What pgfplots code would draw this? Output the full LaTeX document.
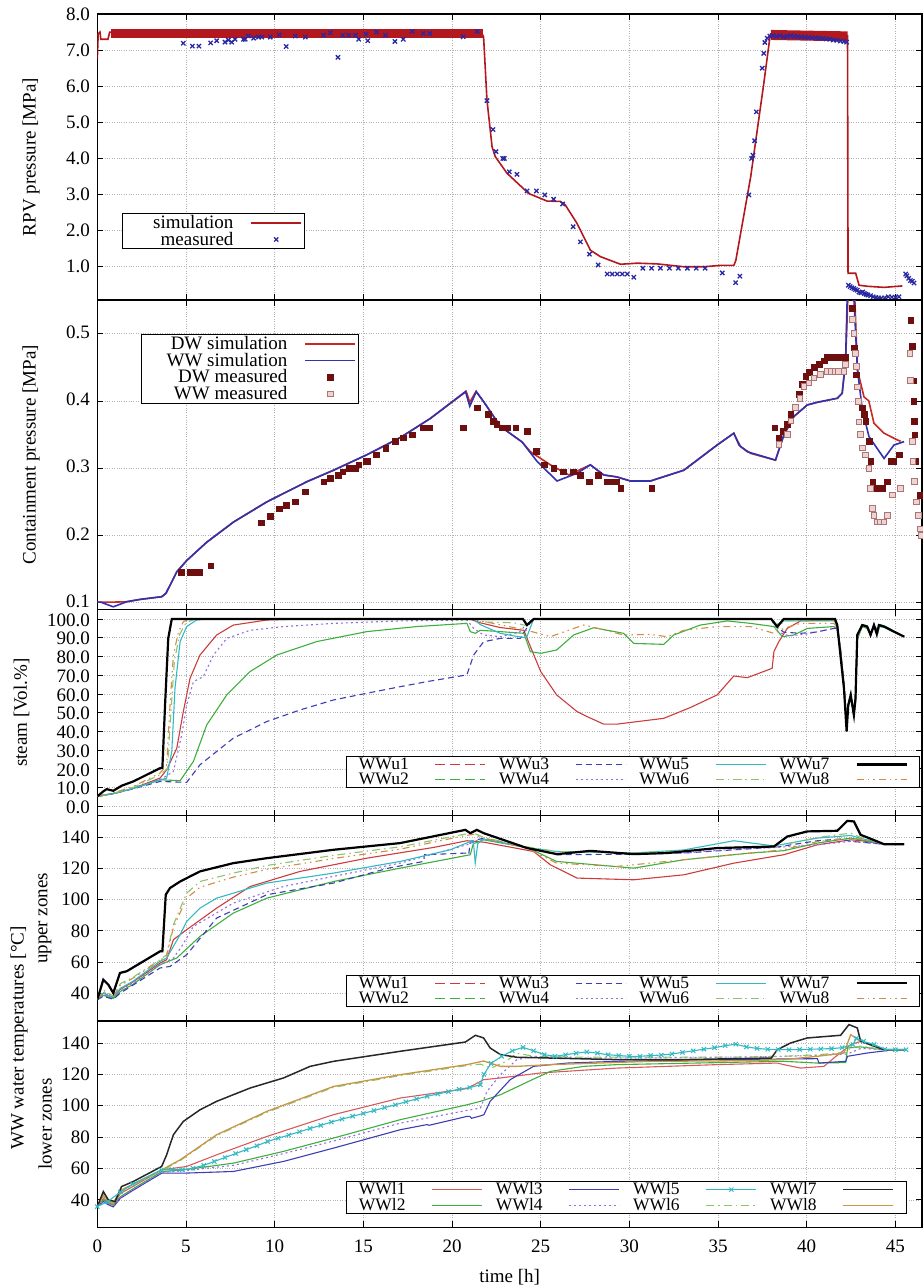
\documentclass[border=0pt]{standalone}
\usepackage{fontspec}
\setmainfont{Liberation Serif}
\usepackage{pgfplots}
\pgfplotsset{compat=1.18}
\definecolor{simred}{RGB}{178,24,30}
\definecolor{measblue}{RGB}{40,40,165}
\definecolor{dwsim}{RGB}{200,40,40}
\definecolor{wwsim}{RGB}{50,50,175}
\definecolor{dwmeas}{RGB}{110,15,15}
\definecolor{wwmeas}{RGB}{175,115,115}
\definecolor{wwfill}{RGB}{235,212,212}
\definecolor{cu1}{RGB}{205,60,60}
\definecolor{cu2}{RGB}{60,175,60}
\definecolor{cu3}{RGB}{60,60,180}
\definecolor{cu4}{RGB}{150,110,220}
\definecolor{cu5}{RGB}{50,185,195}
\definecolor{cu6}{RGB}{140,195,110}
\definecolor{cu8}{RGB}{210,140,70}
\definecolor{cl1}{RGB}{215,90,90}
\definecolor{cl7}{RGB}{40,40,40}
\definecolor{cl8}{RGB}{200,150,70}
\newcommand{\fs}{\fontsize{19}{21}\selectfont}
\newcommand{\fl}{\fontsize{17.5}{20}\selectfont}
\newcommand{\legtxt}[2]{\makebox[#1][r]{\vphantom{Wg}#2}}
\newcommand{\legn}[1]{\rule[-5pt]{0pt}{14.5pt}#1}
\pgfplotsset{
  longlegend/.style={legend image code/.code={\draw[mark repeat=2,mark phase=2,##1] plot coordinates {(0pt,0pt) (25pt,0pt) (50pt,0pt)};}},
  panel/.style={
    scale only axis, width=824.7pt, anchor=north west,
    xmin=0, xmax=46.5, xtick={0,5,...,45},
    grid=major, major grid style={dotted, line width=0.7pt, gray!60},
    axis line style={line width=1.4pt},
    major tick style={black, line width=0.8pt}, major tick length=6pt,
    tick align=inside,
    tick label style={font=\fs},
    label style={font=\fs},
    /pgf/number format/assume math mode=true,
    yticklabel style={xshift=-4pt},
    legend plot pos=right, legend cell align=right, longlegend,
    legend style={font=\fs, draw=black, line width=0.8pt, fill=white,
      inner xsep=2pt, inner ysep=1pt, row sep=0pt, nodes={inner sep=1pt},
      /tikz/every even column/.append style={column sep=11pt},
      /tikz/every odd column/.append style={column sep=16pt}},
  },
  wlegend/.style={legend columns=4,
    legend style={font=\fl, inner xsep=12pt, inner ysep=0.5pt,
      /tikz/every even column/.append style={column sep=12pt},
      /tikz/every odd column/.append style={column sep=25pt}}},
  su1/.style={color=cu1, line width=1.1pt, solid},
  su2/.style={color=cu2, line width=1.1pt, solid},
  su3/.style={color=cu3, line width=1.1pt, dash pattern=on 6pt off 4pt},
  su4/.style={color=cu4, line width=1.1pt, dash pattern=on 2pt off 3pt},
  su5/.style={color=cu5, line width=1.1pt, solid},
  su6/.style={color=cu6, line width=1.1pt, dash pattern=on 8pt off 4pt on 1.5pt off 4pt},
  su7/.style={color=black, line width=2.2pt, solid},
  su8/.style={color=cu8, line width=1.1pt, dash pattern=on 7pt off 4pt on 1.5pt off 4pt on 1.5pt off 4pt},
  sl1/.style={color=cl1, line width=1.1pt, solid},
  sl2/.style={color=cu2, line width=1.1pt, solid},
  sl3/.style={color=cu3, line width=1.1pt, solid},
  sl4/.style={color=cu4, line width=1.1pt, dash pattern=on 2pt off 3pt},
  sl5/.style={color=cu5, line width=1.1pt, solid, mark=x, mark size=3pt, mark options={solid, line width=1pt}},
  sl6/.style={color=cu6, line width=1.1pt, dash pattern=on 8pt off 4pt on 1.5pt off 4pt},
  sl7/.style={color=cl7, line width=1.5pt, solid},
  sl8/.style={color=cl8, line width=1.3pt, solid},
}
\begin{document}
\begin{tikzpicture}
\path[use as bounding box] (0pt,0pt) rectangle (923pt,-1287pt);

% ---------------- Panel 1: RPV pressure
\begin{axis}[panel, at={(97.3pt,-14pt)}, height=286pt,
  ymin=0.08, ymax=8, ytick={1,2,3,4,5,6,7,8},
  yticklabel style={/pgf/number format/.cd, fixed, fixed zerofill, precision=1},
  xticklabels={},
  ylabel={RPV pressure [MPa]},
  ylabel style={at={(axis description cs:-0.0804,0.5)}, anchor=center},
  legend style={at={(0.03,0.304)}, anchor=north west}]
\addplot[simred, line width=1.6pt, forget plot] coordinates {
(0,6.75) (0.05,7.45) (0.15,7.5) (0.2,7.3) (0.6,7.3) (0.7,7.5) (21.7,7.45) (21.78,7.37)
(21.97,5.62) (22.26,4.32) (22.44,4.05) (23.1,3.59) (24.32,3.03) (25.36,2.82) (26.11,2.81)
(26.39,2.71) (27.05,2.2) (27.8,1.46) (28.37,1.28) (29.5,1.07) (30.44,1.10) (31.57,1.08)
(33.07,1.0) (34.2,1.0) (35.14,1.04) (35.89,1.04) (36.0,1.17) (36.84,3.49) (37.58,6.08)
(37.92,7.34) (37.96,7.45) (42.3,7.4) (42.33,0.82) (42.76,0.82) (42.95,0.49) (43.42,0.46)
(44.36,0.43) (45.39,0.47)};
\addplot[simred, line width=8.5pt, forget plot] coordinates {(0.75,7.46) (21.72,7.46)};
\addplot[simred, line width=10pt, forget plot] coordinates {(37.98,7.42) (42.3,7.38)};
\addplot[measblue, only marks, mark=x, mark size=3pt, line width=1.3pt, forget plot] coordinates {
(4.85,7.19) (5.36,7.11) (5.73,7.11) (6.39,7.2) (6.73,7.26) (7.2,7.22) (7.39,7.28) (7.58,7.22)
(7.77,7.3) (8.24,7.3) (8.34,7.3) (8.52,7.39) (8.81,7.33) (9.09,7.36) (9.28,7.36) (9.75,7.36)
(10.26,7.42) (10.65,7.1) (11.16,7.39) (11.73,7.36) (12.76,7.41) (13.14,7.48) (13.57,6.8)
(13.84,7.41) (14.17,7.41) (14.55,7.41) (14.74,7.3) (15.15,7.44) (15.25,7.26) (15.74,7.5)
(16.25,7.41) (16.78,7.24) (17.25,7.3) (17.76,7.52) (18.38,7.46) (18.75,7.46) (20.63,7.37)
(21.42,7.52) (21.97,5.6) (22.31,4.8) (22.48,4.19) (22.86,4.0) (22.95,4.0) (23.23,3.63)
(23.66,3.56) (24.23,3.1) (24.76,3.1) (25.23,2.99) (25.73,2.87) (26.24,2.74) (26.83,2.11)
(27.24,1.69) (27.75,1.35) (28.24,1.05) (28.75,0.8) (29.03,0.8) (29.32,0.8) (29.6,0.8)
(29.88,0.8) (30.25,0.71) (30.76,0.96) (31.25,0.96) (31.75,0.96) (32.26,0.96) (32.76,0.96)
(33.27,0.96) (33.77,0.96) (34.27,0.96) (35.24,0.83) (35.99,0.56) (36.23,0.74) (36.74,2.99)
(36.89,4.0) (36.97,4.09) (37.06,4.49) (37.16,5.29) (37.49,6.5) (37.58,6.91) (37.64,7.21)
(37.77,7.33) (37.92,7.39) (38.1,7.4) (38.3,7.38) (38.5,7.4) (38.7,7.36) (38.9,7.38)
(39.1,7.4) (39.3,7.38) (39.5,7.37) (39.7,7.36) (39.9,7.36) (40.1,7.35) (40.3,7.34)
(40.5,7.34) (40.7,7.33) (40.9,7.32) (41.1,7.31) (41.3,7.3) (41.5,7.28) (41.7,7.27)
(41.9,7.25) (42.1,7.24) (42.25,7.22)
(42.35,0.49) (42.45,0.45) (42.55,0.42) (42.65,0.4) (42.75,0.37) (42.85,0.35) (42.95,0.3)
(43.05,0.28) (43.15,0.3) (43.25,0.26) (43.35,0.24) (43.45,0.22) (43.6,0.2) (43.75,0.17)
(43.9,0.15) (44.05,0.14) (44.2,0.13) (44.4,0.14) (44.6,0.17) (44.8,0.16) (45.0,0.15)
(45.2,0.17) (45.58,0.8) (45.65,0.75) (45.75,0.68) (45.85,0.62) (45.95,0.6) (46.05,0.55)};
\addlegendimage{simred, line width=1.6pt}
\addlegendentry{\legtxt{108pt}{simulation}}
\addlegendimage{measblue, only marks, mark=x, mark size=3pt, line width=1.3pt, longlegend}
\addlegendentry{\legtxt{108pt}{measured}}
\end{axis}

% ---------------- Panel 2: containment pressure
\begin{axis}[panel, at={(97.3pt,-300pt)}, height=309.5pt,
  ymin=0.09, ymax=0.55, ytick={0.1,0.2,0.3,0.4,0.5},
  yticklabel style={yshift=1.5pt, /pgf/number format/.cd, fixed, fixed zerofill, precision=1},
  xticklabels={},
  ylabel={Containment pressure [MPa]},
  ylabel style={at={(axis description cs:-0.0804,0.5)}, anchor=center},
  legend style={at={(0.053,0.89)}, anchor=north west}]
\addplot[dwsim, line width=1.6pt, forget plot] coordinates {
(0,0.101) (0.19,0.101) (0.9,0.101) (1.65,0.1015) (2.41,0.105) (3.63,0.109) (3.87,0.114)
(4.1,0.126) (4.48,0.146) (5.05,0.163) (6.17,0.19) (7.68,0.22) (9.56,0.25) (10.69,0.265)
(11.82,0.28) (13.32,0.297) (15.2,0.32) (17.08,0.3455) (18.78,0.374) (20.8,0.414) (21.0,0.398)
(21.35,0.414) (21.78,0.399) (22.73,0.362) (23.95,0.339) (24.42,0.3245) (25.55,0.305)
(26.58,0.29) (27.8,0.305) (28.55,0.29) (29.3,0.287) (30.06,0.281) (31.19,0.281) (33.07,0.297)
(34.95,0.3345) (35.89,0.352) (36.27,0.332) (36.84,0.322) (38.24,0.312) (38.71,0.3495)
(39.28,0.377) (40.03,0.394) (40.6,0.398) (41.73,0.404) (42.0,0.4115) (42.19,0.459)
(42.33,0.56) (42.7,0.56) (42.86,0.446) (43.23,0.406) (43.5,0.4) (43.79,0.367) (44.36,0.352)
(45.11,0.342) (45.3,0.34)};
\addplot[wwsim, line width=1.6pt, forget plot] coordinates {
(0,0.101) (0.19,0.101) (0.9,0.094) (1.65,0.1015) (2.41,0.105) (3.63,0.109) (3.87,0.114)
(4.1,0.126) (4.48,0.146) (5.05,0.163) (6.17,0.19) (7.68,0.22) (9.56,0.25) (10.69,0.265)
(11.82,0.28) (13.32,0.297) (15.2,0.32) (17.08,0.3455) (18.78,0.374) (20.76,0.414) (21.0,0.392)
(21.37,0.414) (21.78,0.399) (22.73,0.362) (23.95,0.339) (24.8,0.31) (25.92,0.281)
(27.05,0.2925) (27.8,0.305) (28.55,0.29) (29.3,0.287) (30.06,0.281) (31.19,0.281)
(33.07,0.297) (34.95,0.3345) (35.89,0.352) (36.18,0.3345) (36.65,0.3245) (38.24,0.312)
(38.71,0.3495) (39.28,0.377) (40.03,0.394) (40.6,0.398) (41.73,0.404) (42.0,0.4115)
(42.19,0.459) (42.29,0.56) (42.67,0.548) (42.86,0.446) (43.14,0.386) (43.51,0.347)
(44.36,0.3145) (44.92,0.3345) (45.49,0.3395)};
\addplot[dwmeas, only marks, mark=square*, mark size=2.8pt, forget plot] coordinates {
(4.72,0.145) (5.23,0.145) (5.5,0.145) (5.76,0.145) (6.4,0.155) (9.24,0.219) (9.74,0.229)
(10.25,0.24) (10.65,0.245) (11.16,0.25) (11.72,0.265) (12.76,0.28) (13.14,0.285) (13.57,0.29)
(13.84,0.295) (14.17,0.3) (14.55,0.3) (14.74,0.305) (15.15,0.31) (15.25,0.31) (15.74,0.32)
(16.25,0.33) (16.78,0.3405) (17.25,0.3455) (17.76,0.35) (18.38,0.36) (18.75,0.36) (20.63,0.36)
(21.42,0.39) (22.03,0.38) (22.33,0.37) (22.52,0.365) (22.84,0.36) (23.12,0.36) (23.59,0.36)
(24.23,0.355) (24.74,0.3255) (25.21,0.305) (25.73,0.3) (26.26,0.295) (26.83,0.295)
(27.24,0.29) (27.75,0.28) (28.24,0.29) (28.75,0.28) (29.03,0.28) (29.26,0.28) (29.5,0.27)
(31.25,0.27) (38.19,0.36) (38.43,0.3455) (38.66,0.355) (38.9,0.365) (39.09,0.38) (39.37,0.39)
(39.56,0.41) (39.75,0.425) (39.94,0.4365) (40.13,0.443) (40.41,0.45) (40.69,0.455)
(40.98,0.46) (41.17,0.465) (41.4,0.465) (41.6,0.465) (41.8,0.465) (42.0,0.465) (42.2,0.465)
(42.57,0.538) (42.66,0.479) (42.8,0.439) (42.94,0.399) (43.13,0.39) (43.23,0.38) (43.32,0.37)
(43.51,0.34) (43.6,0.31) (43.73,0.28) (43.98,0.27) (44.1,0.27) (44.26,0.27) (44.54,0.28)
(44.73,0.31) (44.9,0.31) (45.2,0.32) (45.86,0.52) (45.96,0.481) (46.02,0.43) (46.04,0.4)
(46.06,0.37) (46.08,0.35) (46.12,0.31) (46.4,0.26)};
\addplot[wwmeas, only marks, mark=square*, mark size=2.8pt, mark options={fill=wwfill, line width=0.9pt}, forget plot] coordinates {
(38.43,0.335) (38.9,0.35) (39.1,0.37) (39.37,0.39) (39.62,0.404) (39.84,0.4215) (40.13,0.4265)
(40.41,0.434) (40.79,0.439) (41.17,0.444) (41.4,0.444) (41.6,0.444) (41.8,0.444) (42.1,0.444)
(42.2,0.454) (42.57,0.521) (42.66,0.5) (42.76,0.471) (42.8,0.451) (42.85,0.421) (42.9,0.399)
(42.95,0.369) (43.04,0.35) (43.13,0.33) (43.32,0.32) (43.51,0.3) (43.6,0.27) (43.7,0.24)
(43.79,0.23) (43.98,0.22) (44.17,0.22) (44.36,0.22) (44.55,0.23) (44.83,0.26) (45.3,0.27)
(45.82,0.471) (45.86,0.43) (45.95,0.34) (46.0,0.31) (46.06,0.28) (46.2,0.25) (46.3,0.23)
(46.4,0.21) (46.45,0.2)};
\addlegendimage{dwsim, line width=1.6pt}
\addlegendentry{\legtxt{143pt}{DW simulation}}
\addlegendimage{wwsim, line width=1.6pt}
\addlegendentry{\legtxt{143pt}{WW simulation}}
\addlegendimage{dwmeas, only marks, mark=square*, mark size=2.8pt, longlegend}
\addlegendentry{\legtxt{143pt}{DW measured}}
\addlegendimage{wwmeas, only marks, mark=square*, mark size=2.8pt, mark options={fill=wwfill, line width=0.9pt}, longlegend}
\addlegendentry{\legtxt{143pt}{WW measured}}
\end{axis}

% ---------------- Panel 3: steam
\begin{axis}[panel, wlegend, at={(97.3pt,-609.7pt)}, height=206pt,
  ymin=-5, ymax=105, ytick={0,10,...,100},
  yticklabel style={yshift=-1pt, /pgf/number format/.cd, fixed, fixed zerofill, precision=1},
  xticklabels={},
  ylabel={steam [Vol.\%]},
  ylabel style={at={(axis description cs:-0.0919,0.5)}, anchor=center},
  legend style={at={(0.301,0.29)}, anchor=north west}]
\addplot[su1, forget plot] coordinates {
(0,5.3) (1,7) (2,9.5) (3.54,15.1) (3.91,19.5) (4.48,31) (4.85,50.6) (5.23,68.4) (5.79,80.8)
(6.73,91.5) (7.67,96.8) (9.56,99.5) (11.44,100) (21.0,100) (21.6,98) (22.7,95.5) (24.05,94)
(24.42,85.3) (25.0,72) (25.9,59.5) (27.05,50.6) (27.6,48) (28.55,43.9) (29.3,43.9) (31.94,47)
(33.45,52.8) (34.95,59.5) (35.89,69.6) (36.65,68.7) (38.05,73.7) (38.15,82.6) (38.43,88)
(38.9,95) (39.65,99) (41.53,99.5) (41.7,97) (41.9,85) (42.1,65) (42.25,45) (42.35,55)
(42.5,58) (42.65,50) (42.75,56) (42.85,90) (43.13,96.5) (43.4,95.5) (43.6,92) (43.8,96.5)
(44.0,93) (44.1,96.5) (44.4,96) (44.9,93.3) (45.5,90.6)};
\addplot[su2, forget plot] coordinates {
(0,5.3) (1,7) (2,9.5) (3.54,14.2) (4.67,13.7) (5.42,24) (6.17,43.5) (7.3,59.5) (8.62,72)
(10.12,80.8) (12.38,88) (15.2,93.3) (18.02,96) (20.84,97.7) (21.03,93.3) (21.31,92.4)
(21.6,94) (22.73,93.3) (24.05,92.4) (24.42,82.6) (25.0,81.7) (25.9,83.5) (26.86,91.5)
(27.99,95.4) (29.67,92.4) (30.25,87) (31.94,86.5) (32.5,91.5) (34.0,96.8) (35.52,99)
(36.83,97.7) (38.15,96) (38.62,90.6) (39.28,91.5) (40.03,95) (41.53,96) (41.7,95)
(41.9,84) (42.1,64) (42.25,44) (42.35,54) (42.5,57) (42.65,49) (42.75,55) (42.85,89)
(43.13,96) (43.4,95) (43.6,91.5) (43.8,96) (44.0,92.5) (44.1,96) (44.4,95.5) (44.9,93)
(45.5,90.6)};
\addplot[su3, forget plot] coordinates {
(0,5.3) (1,7) (2,9.3) (3.54,13.3) (5.04,12.8) (5.79,22.2) (7.67,36.4) (9.56,45.3)
(11.44,51.5) (13.32,56.8) (15.2,60.4) (17.08,63.9) (18.59,66.6) (20.84,70.2) (21.22,80.8)
(21.78,87.9) (22.73,89.7) (23.85,89.7) (24.4,98) (24.6,100) (38.0,100) (38.3,96) (38.7,93)
(39.65,92.4) (40.5,93) (41.53,95) (41.7,95) (41.9,84) (42.1,66) (42.25,46) (42.35,56)
(42.5,59) (42.65,51) (42.75,57) (42.85,91) (43.13,97) (43.4,96) (43.6,92.5) (43.8,97)
(44.0,93.5) (44.1,97) (44.4,96.3) (44.9,93.5) (45.5,90.8)};
\addplot[su4, forget plot] coordinates {
(0,5.3) (1,7) (2,9.5) (3.54,14.2) (4.29,18.6) (4.76,38.2) (5.04,54) (5.42,66.6) (5.98,69.3)
(6.55,80.8) (7.3,89.7) (8.62,94) (10.5,96) (13.32,97.7) (17.08,99) (20.84,99.5) (21.22,95)
(21.78,91.5) (22.73,90.6) (23.8,93) (24.23,97.7) (24.6,100) (38.0,100) (38.4,93) (39,91)
(40,92) (41.5,95) (41.7,96) (41.9,85) (42.1,65) (42.25,45) (42.35,55) (42.5,58) (42.65,50)
(42.75,56) (42.85,90) (43.13,96.5) (43.4,95.5) (43.6,92) (43.8,96.5) (44.0,93) (44.1,96.5)
(44.4,96) (44.9,93.3) (45.5,90.6)};
\addplot[su5, forget plot] coordinates {
(0,5.3) (1,7) (2,9.5) (3.54,14) (3.91,15.1) (4.2,29.3) (4.38,63) (4.67,88) (5.04,96)
(5.6,99.5) (6.17,100) (21.2,100) (21.6,97) (22.72,92.4) (23.5,91) (24.2,90) (24.6,100)
(38.0,100) (38.3,97) (38.7,99) (41.6,99) (41.75,96) (41.9,83) (42.1,62) (42.25,42)
(42.35,53) (42.5,60) (42.65,47) (42.75,58) (42.85,92) (43.13,97) (43.4,96.5) (43.6,91)
(43.8,97) (44.0,92.5) (44.1,97) (44.4,96.3) (44.9,93.6) (45.5,90.8)};
\addplot[su6, forget plot] coordinates {
(0,5.3) (1,7.3) (2,10) (3.54,16.9) (3.95,20) (4.15,50) (4.35,78) (4.65,92) (5.0,98)
(5.5,100) (21.2,100) (21.6,98.5) (23.5,98) (24.2,96.5) (24.6,100) (38.0,100) (38.3,94)
(38.7,99) (41.6,99) (41.75,96) (41.9,82) (42.1,64) (42.25,44) (42.35,54) (42.5,59)
(42.65,48) (42.75,57) (42.85,91) (43.13,96.8) (43.4,96) (43.6,91.5) (43.8,96.8) (44.0,92)
(44.1,96.8) (44.4,96) (44.9,93.3) (45.5,90.6)};
\addplot[su8, forget plot] coordinates {
(0,5.3) (1,7.5) (2,10.5) (3.54,17.8) (3.91,22) (4.1,54) (4.29,80.8) (4.57,93) (4.85,98.6)
(5.23,100) (21.0,100) (21.6,99) (22.7,97) (24.23,94) (25.55,90.6) (26.86,95) (27.43,96.8)
(28.37,94.7) (29.67,91.5) (31.19,91.8) (32.13,90.6) (33.07,94) (34.95,96) (36.83,96)
(38.15,92.4) (38.7,95) (39.65,97.7) (41.53,97.7) (41.7,96) (41.9,84) (42.1,64) (42.25,43)
(42.35,54) (42.5,58) (42.65,49) (42.75,56) (42.85,90) (43.13,96.5) (43.4,95.5) (43.6,92)
(43.8,96.5) (44.0,93) (44.1,96.5) (44.4,96) (44.9,93.3) (45.5,90.6)};
\addplot[su7, forget plot] coordinates {
(0,5.3) (0.34,8) (0.53,9.2) (0.9,8.3) (1.37,11) (2.03,13.3) (3.54,20.4) (3.67,20.6) (3.82,54)
(4.0,89.7) (4.2,100) (24.0,100) (24.23,96.8) (24.6,100) (38.0,100) (38.34,95.9) (38.7,100)
(41.6,100) (41.72,96.8) (41.9,80.8) (42.1,63) (42.25,40) (42.34,54) (42.48,59.5) (42.66,48.8)
(42.75,57.7) (42.85,91.5) (43.13,96.8) (43.41,96) (43.6,91.5) (43.79,96.8) (43.95,92)
(44.07,96.8) (44.36,96) (44.92,93.3) (45.49,90.6)};
\addlegendimage{su1, line width=1.4pt, dash pattern=on 10pt off 5pt}\addlegendentry{\legn{WWu1}}
\addlegendimage{su3, line width=1.4pt}\addlegendentry{\legn{WWu3}}
\addlegendimage{su5, line width=1.4pt}\addlegendentry{\legn{WWu5}}
\addlegendimage{su7}\addlegendentry{\legn{WWu7}}
\addlegendimage{su2, line width=1.4pt, dash pattern=on 10pt off 5pt}\addlegendentry{\legn{WWu2}}
\addlegendimage{su4, line width=1.4pt}\addlegendentry{\legn{WWu4}}
\addlegendimage{su6, line width=1.4pt}\addlegendentry{\legn{WWu6}}
\addlegendimage{su8, line width=1.4pt}\addlegendentry{\legn{WWu8}}
\end{axis}

% ---------------- Panel 4: upper zones
\begin{axis}[panel, wlegend, at={(97.3pt,-815.7pt)}, height=205.3pt,
  ymin=22, ymax=154, ytick={40,60,...,140},
  xticklabels={},
  ylabel={upper zones},
  ylabel style={at={(axis description cs:-0.0634,0.5)}, anchor=center},
  legend style={at={(0.301,0.225)}, anchor=north west}]
\addplot[su1, forget plot] coordinates {
(0,35.7) (0.35,40) (0.6,38.5) (0.9,37) (1.3,42.5) (2,47) (3.54,59.3) (3.91,61.4) (4.29,74.3)
(5.04,80.7) (6.73,94.6) (8.62,108.5) (11.44,118.2) (15.2,126.7) (18.96,133.6) (20.84,137.9)
(21.78,137) (24.6,131) (25.55,122.4) (27.05,113.9) (30.25,112.8) (33.07,116) (35.89,123.5)
(38.7,128.9) (40.6,135.3) (42.48,138.5) (43.04,138) (44.36,135.7) (45.49,135.7)};
\addplot[su2, forget plot] coordinates {
(0,35.7) (0.35,38.5) (0.6,37.5) (0.9,36.5) (1.3,41) (2,45.5) (3.54,58.2) (4.48,62.5)
(5.79,76.4) (7.67,91.4) (9.56,101) (13.32,111.7) (17.08,120.3) (21.03,128.9) (21.2,136)
(21.78,138.5) (24.23,133.5) (25.9,124.6) (30.25,120.3) (33.07,125.7) (36.83,130) (38.7,131.5)
(40.6,136.4) (42.48,139.6) (43.04,138.5) (44.36,135.7) (45.49,135.7)};
\addplot[su3, forget plot] coordinates {
(0,35.7) (0.35,38) (0.6,37) (0.9,36) (1.3,40) (2,45) (3.54,56.1) (4.1,57.1) (5.04,64.6)
(6.73,88.2) (9.56,103.2) (13.32,110.7) (16.42,120.3) (18.4,124.6) (18.45,128.9) (20.84,130)
(20.94,128.9) (21.03,137.4) (21.78,139.6) (24.23,133.5) (25.9,128.9) (30.25,129.3) (33.07,130)
(36.5,132.5) (38.4,134) (40.6,137.9) (41.9,139) (42.48,137.5) (43.04,137) (44.36,135.7)
(45.49,135.7)};
\addplot[su4, forget plot] coordinates {
(0,35.7) (0.35,39) (0.6,38) (0.9,37) (1.3,42) (2,46.5) (3.54,58.2) (4.29,62.5) (4.76,70)
(5.42,82.8) (7.67,97.8) (10.5,108.5) (13.32,115) (17.08,123.5) (20.84,135.3) (21.4,138)
(21.78,139) (24.23,133.5) (25.9,129) (27.43,131) (30.25,130) (33.07,130) (35.9,132.5)
(38.15,133.5) (40.6,135.3) (42.48,137.5) (43.04,137) (44.36,135.7) (45.49,135.7)};
\addplot[su5, forget plot] coordinates {
(0,35.7) (0.35,40) (0.6,38.5) (0.9,37.5) (1.3,43) (2,47.5) (3.54,60.4) (3.91,62.5) (4.67,77.5)
(5.04,86) (5.79,94.6) (6.73,101) (9.56,110.7) (13.32,117.1) (17.08,124.6) (19.9,132.1)
(21.03,137.4) (21.2,138) (21.31,123.5) (21.45,136) (21.78,139) (24.23,133.5) (25.9,131)
(30.25,130) (33.07,132) (35.89,137.9) (38.15,134.6) (40.6,139.6) (42.48,141.3) (43.04,139.5)
(44.36,135.7) (45.49,135.7)};
\addplot[su6, forget plot] coordinates {
(0,35.7) (0.35,42) (0.6,40) (0.9,38) (1.3,46) (2,50) (3.54,61.4) (3.91,64.6) (4.29,83.9)
(5.04,104.2) (5.79,111.7) (7.67,117.1) (9.56,122) (13.32,128.5) (17.08,134) (20.65,142)
(21.2,143) (21.78,140) (24.23,134) (25.9,131) (30,130) (33,131.5) (35.9,134) (38.2,134)
(40.6,140) (42.48,142.8) (43.04,140) (44.36,135.7) (45.49,135.7)};
\addplot[su8, forget plot] coordinates {
(0,35.7) (0.35,41) (0.6,39.5) (0.9,38) (1.3,45) (2,49.5) (3.54,61) (3.91,64) (4.29,82)
(5.04,101) (5.79,108) (7.67,114.5) (9.56,119.5) (13.32,126.5) (17.08,132.5) (20.65,141)
(21.2,142) (21.78,139.6) (24.23,133.2) (25.9,123.5) (29.3,121.4) (33.07,125.7) (36.83,130)
(38.7,132.1) (40.6,137.4) (42.48,139.6) (43.04,139) (44.36,135.7) (45.49,135.7)};
\addplot[su7, forget plot] coordinates {
(0,35.7) (0.34,48.6) (0.62,45.4) (0.9,40) (1.28,52.9) (1.66,54) (3.54,66.8) (3.67,66.8)
(3.86,103.2) (4.1,107.5) (4.67,111.7) (5.79,118.2) (7.67,123.5) (9.56,126.7) (13.32,132.1)
(17.08,136.4) (20.75,144.9) (21.03,142.8) (21.4,144.9) (21.78,142.8) (24.23,133.2)
(25.93,129.3) (27.8,131.4) (30.25,129.3) (32.13,130) (34.95,133.2) (38.15,134.2) (38.9,140.6)
(40.03,143.9) (41.72,144.3) (42.29,150.7) (42.66,150.3) (43.04,141.7) (43.51,139.6)
(44.36,135.7) (45.49,135.7)};
\addlegendimage{su1, line width=1.4pt, dash pattern=on 10pt off 5pt}\addlegendentry{\legn{WWu1}}
\addlegendimage{su3, line width=1.4pt}\addlegendentry{\legn{WWu3}}
\addlegendimage{su5, line width=1.4pt}\addlegendentry{\legn{WWu5}}
\addlegendimage{su7}\addlegendentry{\legn{WWu7}}
\addlegendimage{su2, line width=1.4pt, dash pattern=on 10pt off 5pt}\addlegendentry{\legn{WWu2}}
\addlegendimage{su4, line width=1.4pt}\addlegendentry{\legn{WWu4}}
\addlegendimage{su6, line width=1.4pt}\addlegendentry{\legn{WWu6}}
\addlegendimage{su8, line width=1.4pt}\addlegendentry{\legn{WWu8}}
\end{axis}

% ---------------- Panel 5: lower zones
\begin{axis}[panel, wlegend, at={(97.3pt,-1021pt)}, height=206.3pt,
  ymin=22.5, ymax=154, ytick={40,60,...,140},
  xlabel={time [h]},
  xlabel style={at={(axis description cs:0.5,0)}, anchor=center, yshift=-50pt},
  xticklabel style={yshift=-9pt},
  ylabel={lower zones},
  ylabel style={at={(axis description cs:-0.0634,0.5)}, anchor=center},
  legend style={at={(0.301,0.225)}, anchor=north west}]
\addplot[sl1, forget plot] coordinates {
(0,35.7) (0.35,41) (0.6,38.5) (0.9,37) (1.3,44) (2,48.5) (3.63,59.1) (5.04,61.3) (6.73,68.7)
(9.56,80.4) (13.32,94.3) (17.08,104.9) (20.84,110.9) (21.78,116.6) (22.73,117.7) (25.0,120.9)
(29.3,124) (34.95,126.2) (38.34,127.2) (38.7,126.2) (39.65,124) (40.97,125.1) (41.53,130.4)
(42.48,138.9) (43.04,141) (44.36,135.7) (45.49,135.7)};
\addplot[sl2, forget plot] coordinates {
(0,35.7) (0.35,40) (0.6,38) (0.9,36.5) (1.3,42) (2,47) (3.63,58) (4.85,59.1) (7.67,63.4)
(10.5,70.9) (13.32,79.4) (17.08,91.1) (20.84,100.6) (21.6,102.8) (22.73,107) (24.6,117)
(25.55,121.9) (27.43,125.1) (29.3,126.2) (36.83,127.9) (38.7,128.3) (40.6,127.2) (42.2,127.5)
(42.3,136.8) (43.04,137.5) (44.36,135.7) (45.49,135.7)};
\addplot[sl3, forget plot] coordinates {
(0,35.7) (0.35,39) (0.6,37) (0.9,35.5) (1.3,41) (2,46) (3.63,57) (4.85,57) (7.67,58.1)
(10.5,64.5) (13.32,73) (17.08,84.7) (18.6,88) (18.7,87.5) (20.84,93.2) (21.0,93.2) (21.1,92)
(21.6,93.5) (21.8,94.3) (22.15,102.8) (23.28,116.6) (24.6,125.1) (26.5,127.2) (29.3,128.3)
(34.95,129.4) (40.6,130) (40.69,127.2) (42.2,128.3) (42.3,131.5) (43.41,133.6) (44.92,135.7)
(45.49,135.7)};
\addplot[sl4, forget plot] coordinates {
(0,35.7) (0.35,39.5) (0.6,37.5) (0.9,36) (1.3,41.5) (2,46.5) (3.63,57.5) (4.85,58.5)
(7.67,62) (10.5,69.5) (13.32,77.5) (17.08,88.9) (20.84,97) (21.6,98.5) (21.97,109.1)
(22.73,119.8) (23.66,129.4) (24.6,131.5) (27,130.5) (31,130.5) (36,131) (38.7,131.5)
(40.6,132) (42.3,133) (43.04,136.5) (44.36,135.7) (45.49,135.7)};
\addplot[sl6, forget plot] coordinates {
(0,35.7) (0.35,42) (0.6,39) (0.9,37.5) (1.3,45) (2,49.5) (3.63,58.5) (4.67,65) (6.73,81)
(9.56,95.8) (13.32,111.7) (17.08,119.2) (20.84,125.6) (21.6,126.5) (22.2,124) (23,128)
(23.66,133.5) (24.6,131.5) (27,131) (31,131) (36,131) (38.7,131.5) (40.6,132.5) (42.2,134)
(42.48,137) (43.04,138) (44.36,135.7) (45.49,135.7)};
\addplot[sl8, forget plot] coordinates {
(0,35.7) (0.35,43) (0.6,39.5) (0.9,38) (1.3,46) (2,50) (3.63,59.1) (4.67,65.5) (6.73,81.5)
(9.56,96.4) (13.32,112.3) (17.08,119.8) (20.84,126.2) (21.78,128.5) (22.73,125.1)
(23.66,125.1) (25.55,126.2) (31.19,128.3) (36.83,128.7) (38.7,129.4) (40.6,131.5) (42.1,133.6)
(42.48,145.3) (43.04,141) (44.36,135.7) (45.49,135.7)};
\addplot[sl7, forget plot] coordinates {
(0,35.7) (0.34,45.3) (0.62,40) (1.0,38.9) (1.37,48.5) (2.03,51.7) (3.63,61.3) (3.91,68.7)
(4.29,81.5) (4.85,90) (5.79,97.4) (6.73,102.8) (8.62,111.3) (10.5,117.7) (12.0,125.1)
(13.32,128.3) (15.2,131.5) (17.08,134.7) (20.75,140.6) (21.32,144.9) (21.78,143.2)
(22.15,136.8) (22.73,132.6) (23.66,130.9) (25.55,130.4) (29.3,129.4) (33.07,129.4) (38.0,130.4)
(38.34,135.7) (39.09,140) (40.03,143.2) (41.91,144.9) (42.38,151.7) (42.85,149.6) (43.04,141)
(43.6,138.9) (44.36,135.7) (45.49,135.7)};
\addplot[sl5, forget plot] coordinates {
(0,35.7) (0.6,39) (1.3,45) (2,50) (3.6,59) (4.2,59.3) (4.8,59.2) (5.4,60.2) (6.0,62.0)
(6.6,64.5) (7.2,67) (7.8,69.5) (8.4,72) (9.0,74.5) (9.6,77.2) (10.2,79.3) (10.8,81.3)
(11.4,83.4) (12.0,85.5) (12.6,87.5) (13.2,89.6) (13.8,91.5) (14.4,93.3) (15.0,95.1)
(15.6,96.9) (16.2,98.8) (16.8,100.6) (17.4,102.5) (18.0,104.3) (18.6,106) (19.2,107.5)
(19.8,109) (20.4,110.5) (21.0,111.6) (21.6,113.4) (21.8,120) (22.2,127) (22.8,131.5)
(23.4,135) (24.0,137.2) (24.6,135) (25.2,132.6) (25.8,131.5) (26.4,132.5) (27.0,133.5)
(27.6,134.3) (28.2,133.5) (28.8,132.5) (29.4,132) (30.0,131.5) (30.6,131.5) (31.2,132)
(31.8,132.3) (32.4,133) (33.0,134) (33.6,135) (34.2,136) (34.8,137) (35.4,138.3) (36.0,139.2)
(36.6,137.5) (37.2,136.5) (37.8,136) (38.4,135.8) (39.0,135.7) (39.6,135.8) (40.2,136)
(40.8,136.2) (41.4,136.4) (42.0,137) (42.6,139) (42.8,143) (43.2,141) (43.8,139) (44.4,136)
(45.0,135.7) (45.6,135.7)};
\addlegendimage{sl1, line width=1.4pt}\addlegendentry{\legn{WWl1}}
\addlegendimage{sl3, line width=1.4pt}\addlegendentry{\legn{WWl3}}
\addlegendimage{sl5, line width=1.4pt}\addlegendentry{\legn{WWl5}}
\addlegendimage{sl7}\addlegendentry{\legn{WWl7}}
\addlegendimage{sl2, line width=1.4pt}\addlegendentry{\legn{WWl2}}
\addlegendimage{sl4, line width=1.4pt}\addlegendentry{\legn{WWl4}}
\addlegendimage{sl6, line width=1.4pt}\addlegendentry{\legn{WWl6}}
\addlegendimage{sl8, line width=1.4pt}\addlegendentry{\legn{WWl8}}
\end{axis}

\node[rotate=90, font=\fs, anchor=center] at (19pt,-1038pt) {WW water temperatures [°C]};
\end{tikzpicture}
\end{document}
